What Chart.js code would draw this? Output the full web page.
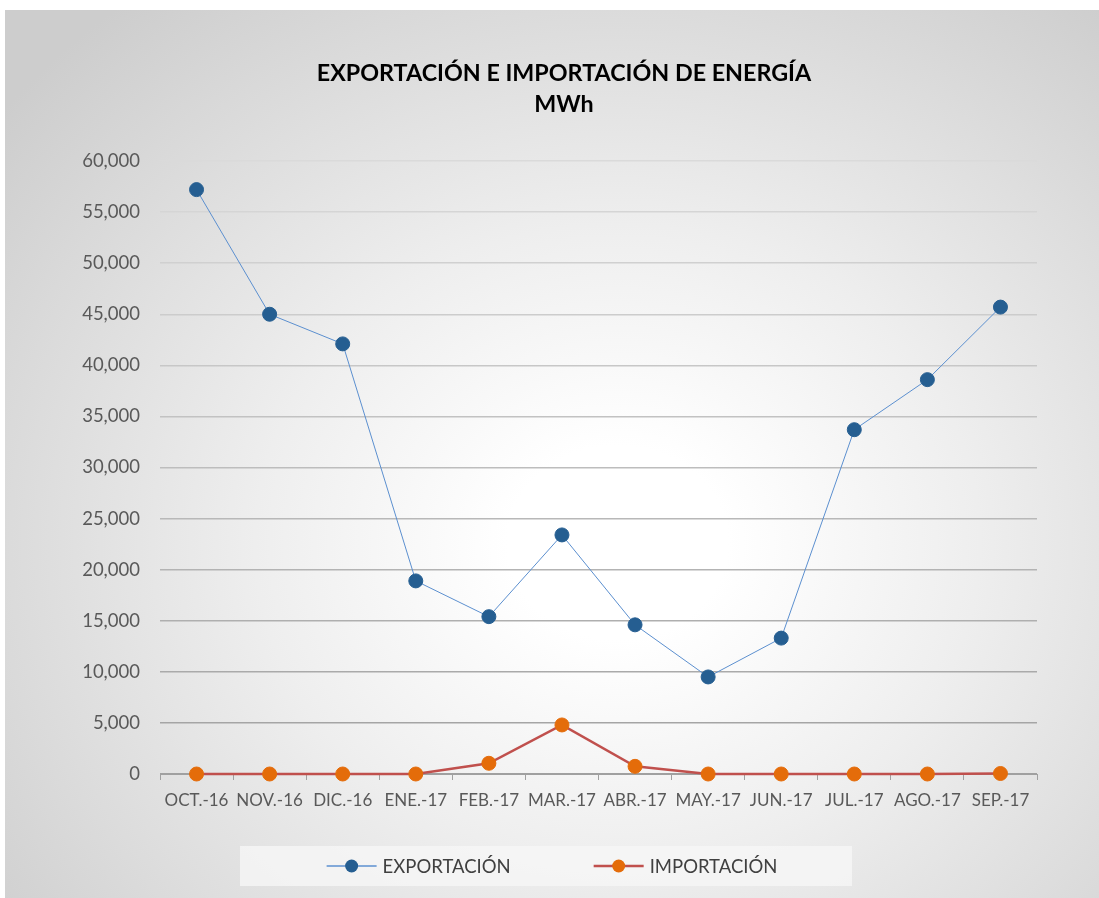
<!DOCTYPE html>
<html>
<head>
<meta charset="utf-8">
<script src="https://cdn.jsdelivr.net/npm/chart.js@4.4.1/dist/chart.umd.min.js"></script>
<style>
  body { margin: 0; background: #ffffff; }
  #frame {
    position: absolute; left: 5px; top: 10px; width: 1094px; height: 888px;
    background: radial-gradient(ellipse 72% 78% at 56% 60%, #ffffff 0%, #ffffff 14%, #eeeeee 46%, #cdcdcd 100%);
  }
</style>
</head>
<body>
<div id="frame"><canvas id="chart" width="1094" height="888"></canvas></div>
<script>
const months = ["OCT.-16", "NOV.-16", "DIC.-16", "ENE.-17", "FEB.-17", "MAR.-17",
                "ABR.-17", "MAY.-17", "JUN.-17", "JUL.-17", "AGO.-17", "SEP.-17"];
const exportacion = [57200, 45000, 42100, 18900, 15400, 23400, 14600, 9500, 13300, 33700, 38600, 45700];
const importacion = [0, 0, 0, 0, 1050, 4800, 750, 0, 0, 0, 0, 50];
const titleLines = ["EXPORTACIÓN E IMPORTACIÓN DE ENERGÍA", "MWh"];

const FONT = "Lato";

// grid lines get lighter towards the top, as in the picture
function gridColor(c) {
  const v = c.tick ? c.tick.value : 0;
  const t = v / 60000;
  const g = Math.round(160 + t * 58);
  return `rgb(${g},${g},${g})`;
}

// title placed by hand (it sits a bit left of the plot centre in the original)
const titleDraw = {
  id: "titleDraw",
  afterDraw(chart) {
    const ctx = chart.ctx;
    ctx.save();
    ctx.font = "bold 23.3px " + FONT;
    ctx.fillStyle = "#000000";
    ctx.textAlign = "center";
    ctx.textBaseline = "middle";
    titleLines.forEach((t, i) => ctx.fillText(t, 559, 63 + i * 31));
    ctx.restore();
  }
};

// legend drawn by hand: line with a round marker, inside a light box
const legendBox = {
  id: "legendBox",
  afterDraw(chart) {
    const ctx = chart.ctx;
    const w = 612, h = 40;
    const bx = chart.width / 2 - 312, by = chart.height - 52;
    ctx.save();
    ctx.fillStyle = "rgba(246,246,246,0.8)";
    ctx.fillRect(bx, by, w, h);
    ctx.font = "18.5px " + FONT;
    ctx.textBaseline = "middle";
    const lineLen = 50, gapText = 6, gapItem = 83;
    const items = chart.data.datasets.map(ds => ({ ds, tw: ctx.measureText(ds.label).width }));
    let total = 0;
    items.forEach((it, i) => { total += lineLen + gapText + it.tw + (i ? gapItem : 0); });
    let x = bx + (w - total) / 2 + 6;
    const cy = by + h / 2;
    items.forEach((it, i) => {
      if (i) x += gapItem;
      ctx.strokeStyle = it.ds.borderColor;
      ctx.lineWidth = Math.max(it.ds.borderWidth, 1.5);
      ctx.beginPath(); ctx.moveTo(x, cy); ctx.lineTo(x + lineLen, cy); ctx.stroke();
      ctx.fillStyle = it.ds.pointBackgroundColor;
      ctx.beginPath(); ctx.arc(x + lineLen / 2, cy, 6.5, 0, Math.PI * 2); ctx.fill();
      ctx.fillStyle = "#404040";
      ctx.fillText(it.ds.label, x + lineLen + gapText, cy + 1);
      x += lineLen + gapText + it.tw;
    });
    ctx.restore();
  }
};

new Chart(document.getElementById("chart"), {
  type: "line",
  plugins: [titleDraw, legendBox],
  data: {
    labels: months,
    datasets: [
      {
        label: "EXPORTACIÓN",
        data: exportacion,
        borderColor: "#5b8fcf",
        borderWidth: 1,
        pointBackgroundColor: "#255e91",
        pointBorderColor: "#255e91",
        pointRadius: 7,
        pointBorderWidth: 1,
        tension: 0,
        clip: false
      },
      {
        label: "IMPORTACIÓN",
        data: importacion,
        borderColor: "#c0504d",
        borderWidth: 2.5,
        pointBackgroundColor: "#e46c0a",
        pointBorderColor: "#e46c0a",
        pointRadius: 7,
        pointBorderWidth: 1,
        tension: 0,
        clip: false
      }
    ]
  },
  options: {
    responsive: false,
    animation: false,
    layout: { padding: { left: 0, right: 62, top: 151, bottom: 84 } },
    plugins: {
      legend: { display: false },
      tooltip: { enabled: false },
      title: { display: false }
    },
    scales: {
      x: {
        offset: true,
        afterFit: s => { s.height = 40; },
        grid: { offset: true, drawOnChartArea: false, drawTicks: true, tickLength: 6, color: "#a0a0a0" },
        border: { display: true, color: "#a0a0a0", width: 1 },
        ticks: { color: "#595959", font: { family: FONT, size: 17 }, padding: 10, maxRotation: 0, autoSkip: false }
      },
      y: {
        min: 0,
        max: 60000,
        afterFit: s => { s.width = 155; },
        grid: { color: gridColor, lineWidth: 1.5, drawTicks: false },
        border: { display: false },
        ticks: {
          stepSize: 5000,
          color: "#595959",
          padding: 20,
          font: { family: FONT, size: 18.5 },
          callback: v => v.toLocaleString("en-US")
        }
      }
    }
  }
});
</script>
</body>
</html>
